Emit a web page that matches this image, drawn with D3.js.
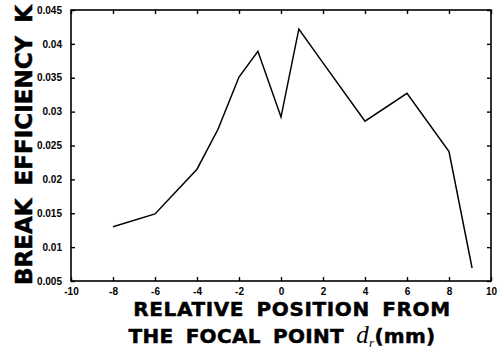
<!DOCTYPE html>
<html>
<head>
<meta charset="utf-8">
<script src="https://cdn.jsdelivr.net/npm/d3@7"></script>
<style>
  html, body { margin: 0; padding: 0; background: #fff; }
  svg { display: block; }
</style>
</head>
<body>
<svg id="chart" width="500" height="358"></svg>
<script>
// Data
const positions = [-8, -6, -4, -3, -2, -1.1, 0, 0.85, 2, 4, 6, 8, 9.1];
const efficiency = [0.0130, 0.0149, 0.0215, 0.0274, 0.0351, 0.0389, 0.0292, 0.0422, 0.0372, 0.0286, 0.0327, 0.0241, 0.0069];
const xTicks = [-10, -8, -6, -4, -2, 0, 2, 4, 6, 8, 10];
const yTicks = [0.005, 0.01, 0.015, 0.02, 0.025, 0.03, 0.035, 0.04, 0.045];
const yTickLabels = ["0.005", "0.01", "0.015", "0.02", "0.025", "0.03", "0.035", "0.04", "0.045"];

const svg = d3.select("#chart");
const pLeft = 71, pRight = 491, pTop = 10, pBottom = 281;

const x = d3.scaleLinear().domain([-10, 10]).range([pLeft, pRight]);
const y = d3.scaleLinear().domain([0.005, 0.045]).range([pBottom, pTop]);

const tickFont = "'Liberation Sans Narrow', 'Liberation Sans', Arial, sans-serif";

// Frame
svg.append("rect")
  .attr("x", pLeft).attr("y", pTop)
  .attr("width", pRight - pLeft).attr("height", pBottom - pTop)
  .attr("fill", "none").attr("stroke", "#000").attr("stroke-width", 1.6);

// Bottom axis (ticks inward)
const xAxisB = svg.append("g").attr("transform", `translate(0,${pBottom})`)
  .call(d3.axisBottom(x).tickValues(xTicks).tickSizeInner(-4).tickSizeOuter(0).tickPadding(7)
    .tickFormat(d => d));
// Top axis (ticks inward, no labels)
const xAxisT = svg.append("g").attr("transform", `translate(0,${pTop})`)
  .call(d3.axisTop(x).tickValues(xTicks).tickSizeInner(-4).tickSizeOuter(0).tickFormat(""));
// Left axis
const yAxisL = svg.append("g").attr("transform", `translate(${pLeft},0)`)
  .call(d3.axisLeft(y).tickValues(yTicks).tickSizeInner(-4).tickSizeOuter(0).tickPadding(9)
    .tickFormat((d, i) => yTickLabels[i]));
// Right axis
const yAxisR = svg.append("g").attr("transform", `translate(${pRight},0)`)
  .call(d3.axisRight(y).tickValues(yTicks).tickSizeInner(-4).tickSizeOuter(0).tickFormat(""));

[xAxisB, xAxisT, yAxisL, yAxisR].forEach(g => {
  g.select(".domain").remove();
  g.selectAll(".tick line").attr("stroke", "#000").attr("stroke-width", 1.4);
  g.selectAll("text").attr("fill", "#000")
    .style("font-family", tickFont).style("font-size", "10px").style("font-weight", "bold");
});

// Data line
const line = d3.line().x((d, i) => x(positions[i])).y(d => y(d));
svg.append("path")
  .datum(efficiency)
  .attr("d", line)
  .attr("fill", "none")
  .attr("stroke", "#000")
  .attr("stroke-width", 1.5)
  .attr("stroke-linejoin", "miter");

const titleFont = "'DejaVu Sans', 'Liberation Sans', Arial, sans-serif";

// Y axis title
svg.append("text")
  .attr("transform", "translate(32,145) rotate(-90)")
  .attr("text-anchor", "middle")
  .attr("fill", "#000").attr("stroke", "#000").attr("stroke-width", 0.5)
  .style("font-family", titleFont)
  .style("font-weight", "bold")
  .style("font-size", "23px")
  .style("word-spacing", "5px")
  .text("BREAK EFFICIENCY K");

// X axis title
svg.append("text")
  .attr("x", 292).attr("y", 316)
  .attr("text-anchor", "middle")
  .attr("fill", "#000").attr("stroke", "#000").attr("stroke-width", 0.5)
  .style("font-family", titleFont).style("font-weight", "bold").style("font-size", "20px")
  .style("letter-spacing", "0.6px")
  .style("word-spacing", "5px")
  .text("RELATIVE POSITION FROM");

const t2 = svg.append("text")
  .attr("x", 282).attr("y", 343)
  .attr("text-anchor", "middle")
  .attr("fill", "#000").attr("stroke", "#000").attr("stroke-width", 0.5)
  .style("font-family", titleFont).style("font-weight", "bold").style("font-size", "20px")
  .style("letter-spacing", "0.3px")
  .style("word-spacing", "5px");
t2.append("tspan").text("THE FOCAL POINT ");
t2.append("tspan").text("d")
  .attr("stroke-width", 0)
  .style("font-family", "'Liberation Serif', 'DejaVu Serif', serif")
  .style("font-style", "italic").style("font-weight", "normal").style("font-size", "25px");
t2.append("tspan").text("r").attr("dy", 4)
  .attr("stroke-width", 0)
  .style("font-family", "'Liberation Serif', 'DejaVu Serif', serif")
  .style("font-style", "italic").style("font-weight", "normal").style("font-size", "13px");
t2.append("tspan").text("(mm)").attr("dy", -4);
</script>
</body>
</html>
